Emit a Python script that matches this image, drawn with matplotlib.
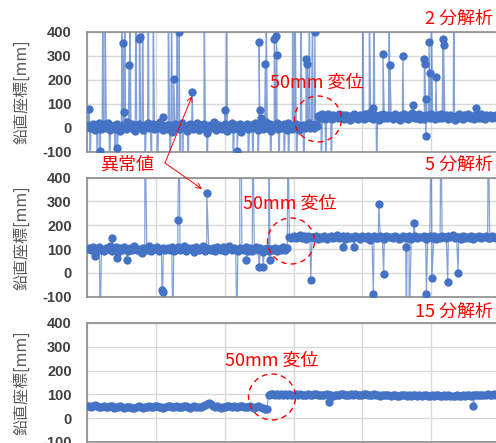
import matplotlib
matplotlib.use("Agg")
import matplotlib.pyplot as plt
import numpy as np
from matplotlib.patches import Ellipse, FancyArrowPatch

# ---------------- data ----------------
# regular readings (vertical coordinate, mm), one every 0.02 / 0.03 x-units
p1_base = [
    5, 12, -3, 8, 15, 0, -8, 10, 3, 18, -5, 7, 14, -2, 6, 20, 2, -10, 9, 4,
    11, -4, 16, 1, -12, 8, 13, 5, -6, 22, 3, 9, -1, 14, 6, -15, 10, 2, 17, 0,
    7, -9, 12, 4, 19, -3, 8, 1, 15, -7, 5, 11, -2, 24, 6, -11, 9, 3, 13, -4,
    10, 2, -18, 8, 16, 0, 5, -6, 12, 21, 4, -1, 9, -13, 7, 14, 1, -5, 11, 3,
    18, -8, 6, 10, -3, 15, 2, -20, 8, 12, -2, 5, 23, 0, -9, 9, 13, 4, -6, 7,
    16, 1, -12, 10, 3, 20, -4, 8, 11, -1, 6, 14, -16, 4, 9, 2, 17, -7, 5, 12,
    -3, 8, 19, 0, -10, 7, 13, 3, -5, 10, 22, -2, 6, 15, -14, 5, 9, 1, 18, -6,
    4, 11, -1, 14, 7, -9, 20, 3, 8, -4, 12, 0, 16, 6, -11, 9, 2, 13, -3, 10,
    5, 18, -2, 8, 12, 0, 15, 6,
    48, 52, 40, 55, 45, 38, 50, 57, 42, 47, 35, 53,
    44, 49, 39, 58, 46, 41, 51, 36, 54, 43, 48, 33, 50, 45, 56, 40, 47, 38, 52, 44,
    49, 35, 55, 42, 46, 60, 41, 50, 37, 53, 45, 48, 32, 51, 44, 57, 40, 46, 39, 54,
    43, 50, 36, 47, 58, 41, 49, 34, 52, 45, 55, 40, 48, 37, 53, 44, 62, 46, 39, 51,
    42, 56, 38, 47, 50, 35, 53, 44, 49, 40, 57, 43, 46, 36, 52, 45, 41, 55, 39, 48,
    44, 51, 37, 49, 54, 42, 46, 33, 50, 45, 58, 40, 47, 38, 52, 43, 48, 55, 41, 46,
    50, 36, 53, 44, 47, 40, 56, 42, 49, 38, 51, 45, 43, 54, 39, 48, 46, 52, 41, 47,
]
p2_base = [
    100, 105, 95, 108, 92, 102, 110, 97, 90, 104, 99, 112, 94, 101, 107, 88, 103, 96, 109, 100,
    93, 106, 98, 111, 95, 102, 89, 105, 100, 97, 113, 94, 103, 99, 108, 91, 101, 106, 96, 104,
    98, 110, 93, 102, 107, 95, 100, 114, 92, 105, 99, 103, 88, 108, 97, 101, 111, 94, 106, 100,
    96, 104, 90, 109, 102, 98, 107, 93, 101, 112, 95, 103, 99, 91, 106, 100, 97, 110, 94, 105,
    92, 101, 108, 96, 103, 89, 99, 106, 94, 102, 97, 104, 90, 100, 95, 107, 98, 103,
    152, 148,
    155, 145, 150, 158, 147, 153, 143, 156, 149, 151, 146, 157, 144, 152, 148, 155, 141, 150, 154, 147,
    151, 158, 145, 149, 153, 142, 156, 148, 150, 146, 155, 152, 144, 157, 149, 147, 153, 140, 151, 156,
    148, 145, 154, 150, 143, 157, 149, 152, 146, 155, 151, 144, 148, 156, 150, 147, 153, 142, 149, 155,
    146, 152, 150, 157, 144, 149, 153, 148, 155, 141, 151, 147, 156, 150, 145, 153, 149, 158, 146, 152,
    150, 144, 155, 148, 152, 147, 156, 143, 151, 149, 154, 146, 150, 157, 148, 145, 153, 151, 147, 152,
]
p3_base = [
    52, 50, 47, 49, 53, 51, 46, 48, 50, 45, 47, 51, 49, 44, 46, 48, 50, 47, 43, 45,
    48, 46, 42, 44, 47, 49, 45, 43, 46, 48, 50, 47, 45, 49, 51, 48, 46, 44, 47, 49,
    51, 48, 46, 50, 47, 45, 48, 52, 49, 46, 44, 47, 50, 48, 45, 47, 51, 53, 58, 64,
    57, 50, 45, 49, 47, 44, 48, 46, 50, 49, 47, 50, 48, 46, 49, 51, 47, 45, 48, 50,
    47, 44, 46, 49, 45, 42, 36, 40,
    95, 100, 102, 98, 101, 99, 103, 97, 100, 98, 102, 99,
    96, 100, 98, 101, 97, 95, 99, 102, 98, 96, 100, 103, 99, 97, 95, 98, 101, 99, 96, 94,
    97, 99, 96, 100, 102, 98, 95, 97, 100, 99, 101, 98, 96, 99, 102, 100, 97, 95, 98, 100,
    99, 96, 94, 97, 95, 98, 96, 93, 95, 97, 94, 92, 96, 98, 95, 93, 96, 94, 97, 95,
    93, 96, 94, 97, 95, 92, 94, 96, 93, 95, 97, 94, 92, 95, 93, 96, 94, 91, 93, 95,
    92, 94, 96, 93, 95, 97, 94, 96, 98, 95, 97, 99, 96, 98, 100, 97, 99, 101, 98, 100,
]
p1_step, p2_step, p3_step = 0.02, 0.03, 0.03   # x-spacing of regular readings

# abnormal readings: x position and value (values >400 / <-100 are off scale)
p1_out_x = [0.03, 0.04, 0.15, 0.19, 0.23, 0.26, 0.33, 0.41, 0.44, 0.51, 0.52, 0.54, 0.55,
            0.61, 0.62, 0.71, 0.76, 0.77, 0.81, 0.84, 0.89, 0.94, 0.96, 1.02, 1.10, 1.18,
            1.21, 1.23, 1.26, 1.31, 1.34, 1.35, 1.39, 1.47, 1.53, 1.70, 1.74, 2.00, 2.03,
            2.12, 2.18, 2.34, 2.41, 2.48, 2.50, 2.51, 2.53, 2.59, 2.60, 2.67, 2.72, 2.75,
            2.76, 2.79, 2.86, 2.93, 2.99, 3.02, 3.04, 3.11, 3.15, 3.18, 3.20, 3.23, 3.28,
            3.31, 3.40, 3.47, 3.55, 4.01, 4.10, 4.16, 4.17, 4.21, 4.30, 4.39, 4.40, 4.59,
            4.74, 4.90, 4.91, 4.92, 4.93, 4.97, 4.98, 5.00, 5.07, 5.17, 5.18, 5.33, 5.65]
p1_out_y = [78, -250, -250, -95, 650, 650, -250, -250, -85, 650, 352, 67, 650,
            261, 650, 650, 370, 379, 650, -250, 650, -250, 650, -250, 45, 650,
            -250, 650, 203, 650, 397, -250, -250, -250, 147, 650, -250, 75, 650,
            -250, -95, -250, -250, -250, 358, 74, 40, 264, 650, -250, 370, 380,
            303, -250, -250, -250, 650, 650, -250, 650, -250, 287, 264, 650, 650,
            397, -250, -250, -250, 650, 650, 83, 650, -250, 307, 650, 261, 300,
            95, 285, 264, -34, 120, 355, 230, 650, 210, 371, 344, 650, 80]
p2_out_x = [0.12, 0.19, 0.36, 0.44, 0.58, 0.80, 0.84, 1.09, 1.10, 1.25, 1.32, 1.34, 1.74,
            2.18, 2.22, 2.24, 2.31, 2.41, 2.50, 2.56, 2.64, 2.66, 2.92, 3.25, 3.72, 3.88,
            4.16, 4.24, 4.31, 4.63, 4.64, 4.68, 4.75, 4.93, 5.00, 5.01, 5.14, 5.24, 5.39, 5.83]
p2_out_y = [71, -250, 145, 62, 54, 83, 650, -72, -80, -250, 222, 650, 334,
            -250, 650, 650, 54, 650, 26, 26, 650, 54, 650, -30, 110, 110,
            -89, 290, -4, 110, -250, -250, 211, -89, 650, -23, 650, -37, 0, 650]
p3_out_x = [3.52, 5.61]
p3_out_y = [69, 50]

panel_titles = ["2 分解析", "5 分解析", "15 分解析"]
step_label = "50mm 変位"
outlier_label = "異常値"
y_label = "鉛直座標[mm]"
y_ticks = [-100, 0, 100, 200, 300, 400]

# ---------------- figure ----------------
W, H = 496, 443
fig = plt.figure(figsize=(W / 100, H / 100), dpi=100)
cjk = ["Noto Sans CJK JP", "DejaVu Sans"]
blue = "#4472C4"

def fx(px):
    return px / W

def fy(py):
    return 1 - py / H

def merged(base, step, ox, oy):
    bx = np.arange(len(base)) * step
    xs = np.concatenate([bx, np.asarray(ox, float)])
    ys = np.concatenate([np.asarray(base, float), np.asarray(oy, float)])
    order = np.argsort(xs, kind="stable")
    return xs[order], ys[order]

rects = [
    (87, 31.7, 151.7),
    (87, 177.7, 296.7),
    (87, 323.0, 441.8),
]
series = [merged(p1_base, p1_step, p1_out_x, p1_out_y),
          merged(p2_base, p2_step, p2_out_x, p2_out_y),
          merged(p3_base, p3_step, p3_out_x, p3_out_y)]
for (left, top, bot), (x, vals) in zip(rects, series):
    ax = fig.add_axes([fx(left), fy(bot), 413 / W, (bot - top) / H])
    ax.plot(x, vals, color=blue, lw=0.9, alpha=0.65, zorder=2)
    ax.plot(x, vals, "o", color=blue, ms=6.0, mew=0, zorder=3)
    ax.set_xlim(0, 6)
    ax.set_ylim(-100, 400)
    ax.set_xticks(range(7))
    ax.set_xticklabels([])
    ax.set_yticks(y_ticks)
    ax.set_yticklabels([str(v) for v in y_ticks], fontfamily="Liberation Sans",
                       fontweight="bold", fontsize=10.5, color="#404040")
    ax.tick_params(length=0, pad=11)
    ax.grid(True, color="#d9d9d9", lw=1, zorder=0)
    ax.set_axisbelow(True)
    for s in ax.spines.values():
        s.set_color("#8c8c8c")
        s.set_linewidth(1.2)
    ax.text((22 - 87) / 413, 0.5, y_label, transform=ax.transAxes, rotation=90,
            ha="center", va="center", fontsize=11.5, color="#595959", family=cjk)

# panel titles
for title, yc in zip(panel_titles, [18.5, 165, 312]):
    fig.text(fx(493), fy(yc), title, ha="right", va="center", fontsize=13,
             color="red", family=cjk)

# step annotations
for (tx, ty), (cx, cy) in zip([(317, 83), (290, 204), (272, 361)],
                              [(318, 119), (291, 241), (272, 397)]):
    fig.text(fx(tx), fy(ty), step_label, ha="center", va="center", fontsize=13,
             color="red", family=cjk)
    fig.add_artist(Ellipse((fx(cx), fy(cy)), 47 / W, 46 / H, transform=fig.transFigure,
                           fill=False, ec="red", lw=1.0, ls=(0, (4, 3)), zorder=5))

# outlier annotation
fig.text(fx(127), fy(165), outlier_label, ha="center", va="center", fontsize=13,
         color="red", family=cjk)
for tip in [(192, 96), (202, 189)]:
    fig.add_artist(FancyArrowPatch((fx(165), fy(163)), (fx(tip[0]), fy(tip[1])),
                                   transform=fig.transFigure, arrowstyle="->",
                                   mutation_scale=9, color="red", lw=0.7,
                                   shrinkA=0, shrinkB=0, zorder=6))

fig.savefig("out.png", dpi=100)
